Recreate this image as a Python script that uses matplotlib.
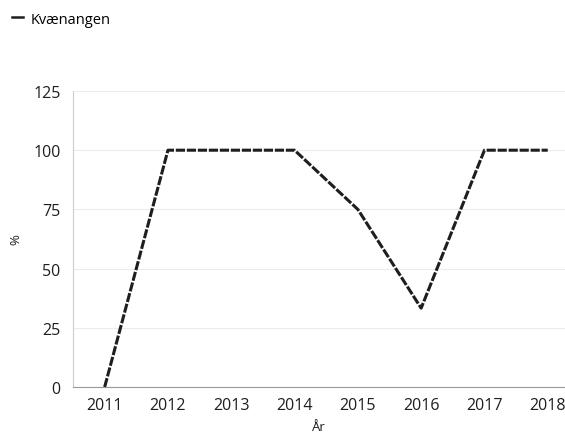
import matplotlib
matplotlib.use("Agg")
import matplotlib.pyplot as plt
from matplotlib.lines import Line2D

years = [2011, 2012, 2013, 2014, 2015, 2016, 2017, 2018]
values = [0, 100, 100, 100, 75, 33.3, 100, 100]
yticks = [0, 25, 50, 75, 100, 125]
series_name = "Kvænangen"

plt.rcParams['font.family'] = ['Open Sans', 'DejaVu Sans']

W, H = 565, 439
fig = plt.figure(figsize=(W/100, H/100), dpi=100)
left, right, top, bottom = 73, 565, 92, 388
ax = fig.add_axes([left/W, 1-bottom/H, (right-left)/W, (bottom-top)/H])

ax.plot(years, values, color='#1e1e1e', lw=2.2, dashes=(3, 0.6))
ax.set_xlim(2010.5, 2010.5 + (right-left)/63.3)
ax.set_ylim(0, 125)
ax.set_yticks(yticks)
ax.set_xticks(years)
ax.tick_params(length=0, labelsize=11.5, colors='#1e1e1e')
ax.tick_params(axis='y', pad=9)
ax.tick_params(axis='x', pad=7)
ax.grid(axis='y', color='#ececec', lw=0.8)
ax.set_axisbelow(True)
for s in ['top', 'right']:
    ax.spines[s].set_visible(False)
ax.spines['left'].set_color('#cccccc')
ax.spines['bottom'].set_color('#999999')
ax.set_xlabel('År', fontsize=9.5, color='#1e1e1e', labelpad=5)
fig.text(16/W, 1-240/H, '%', rotation=90, ha='center', va='center',
         fontsize=9.5, color='#1e1e1e')

handle = Line2D([0], [0], color='#1e1e1e', lw=1.8)
fig.legend([handle], [series_name], loc='upper left', bbox_to_anchor=(0.004, 0.993),
           frameon=False, fontsize=10.5, handlelength=0.8, handletextpad=0.5,
           borderaxespad=0.25)

fig.savefig('out.png', dpi=100, facecolor='white')
